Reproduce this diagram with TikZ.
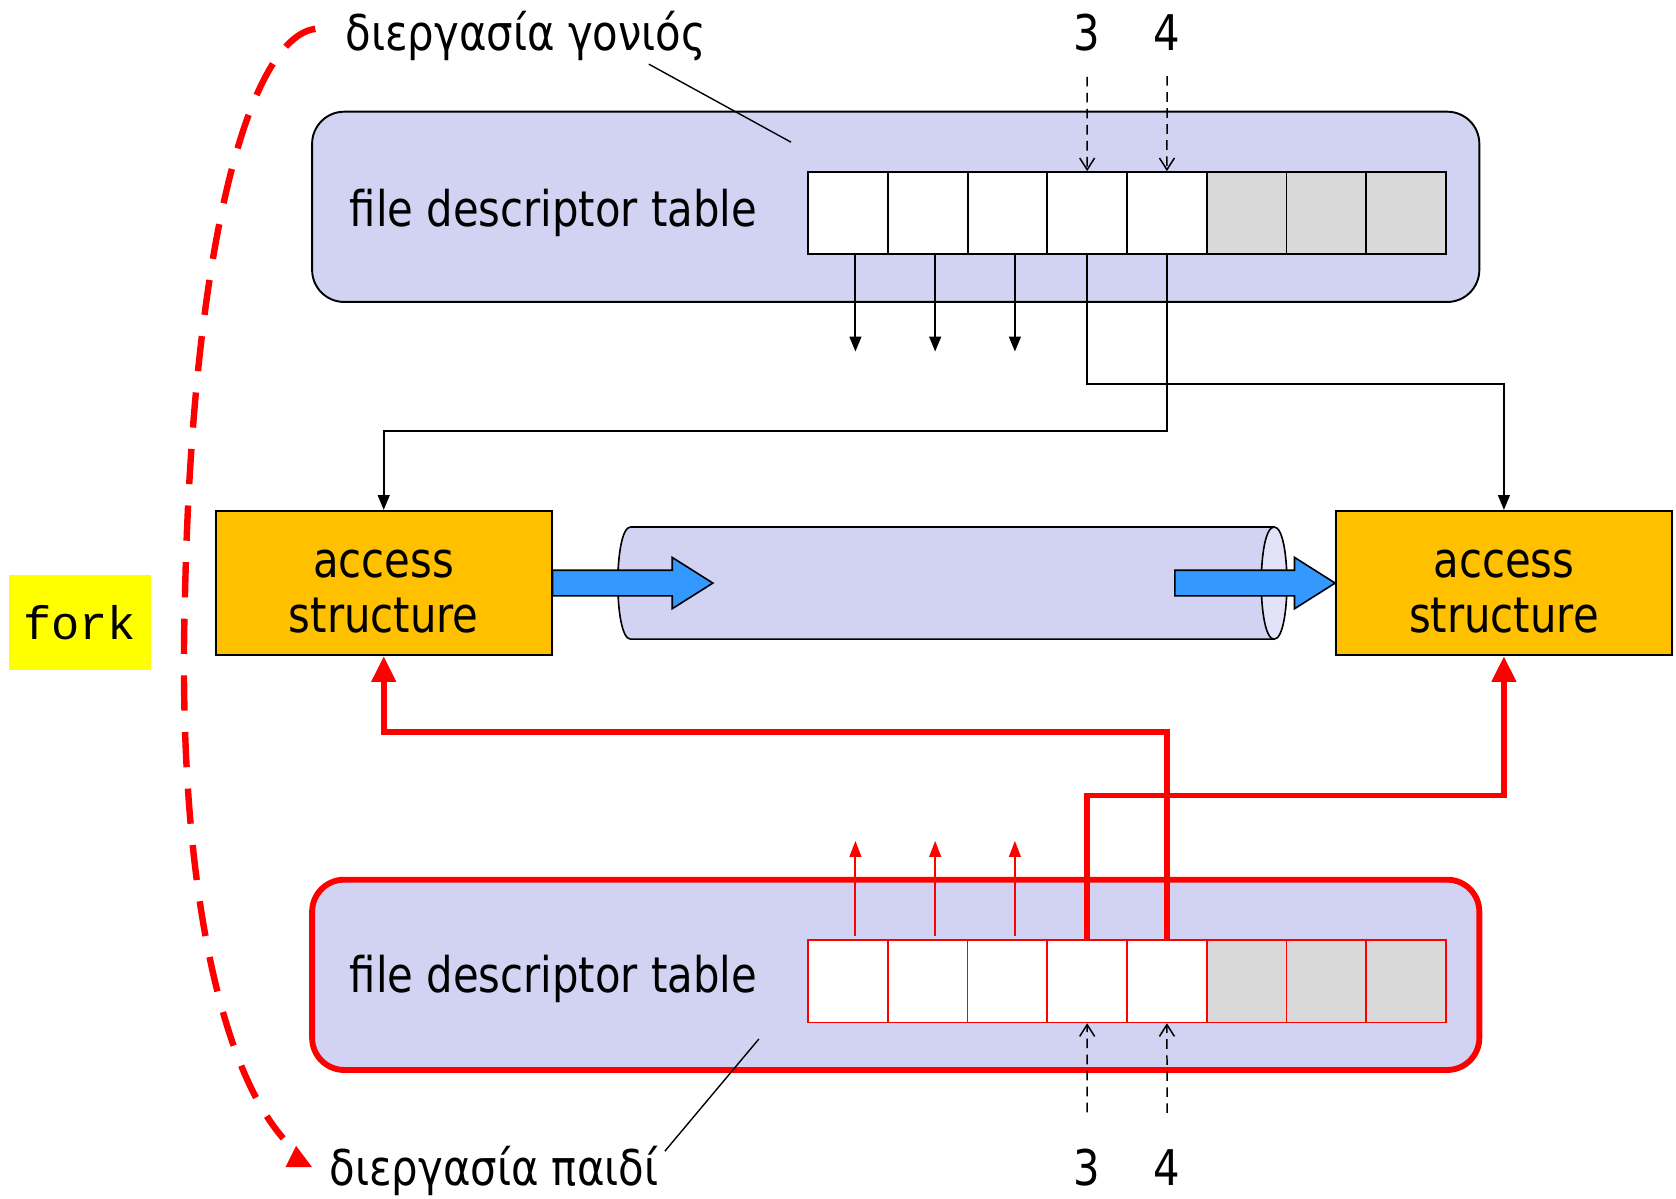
\documentclass[tikz,border=0pt]{standalone}
\usepackage{fontspec}
\setmainfont{DejaVu Sans}[FakeStretch=0.85]
\newfontfamily\forkfont{Liberation Mono}
\usetikzlibrary{arrows.meta,calc}
\definecolor{lav}{RGB}{210,210,243}
\definecolor{lavlight}{RGB}{226,226,248}
\definecolor{cellgray}{RGB}{217,217,217}
\definecolor{accorange}{RGB}{255,192,0}
\definecolor{arrblue}{RGB}{51,153,255}
\definecolor{forkyellow}{RGB}{255,255,0}
\definecolor{pred}{RGB}{255,0,0}
\begin{document}
\begin{tikzpicture}[x=1pt,y=-1pt,
  big/.style={font=\fontsize{46}{52}\selectfont},
  procbox/.style={rounded corners=30pt, fill=lav, minimum width=1092pt, minimum height=178pt, inner sep=0pt},
  cellbox/.style={minimum width=74.6pt, minimum height=77pt, inner sep=0pt},
  accbox/.style={draw=black, line width=1.8pt, fill=accorange, minimum width=314pt, minimum height=135pt, inner sep=0pt},
  acctext/.style={big, align=center, inner sep=0pt},
  dasharr/.style={black, line width=1.4pt, dash pattern=on 9pt off 6pt, -{Straight Barb[length=11pt,width=14pt]}},
  solidarr/.style={black, line width=1.9pt, -{Triangle[length=14pt,width=11pt]}},
  redthin/.style={pred, line width=1.8pt, -{Triangle[length=15pt,width=11pt]}},
  redthick/.style={pred, line width=5.5pt, -{Triangle[length=24pt,width=22pt]}},
  bluearr/.style={draw=black, line width=1.5pt, fill=arrblue},
  leader/.style={black, line width=1.3pt}
]
\useasboundingbox (0,0) rectangle (1568,1121);

% process boxes
\node[procbox, draw=black, line width=1.8pt] (parent) at (838,193.5) {};
\node[procbox, draw=pred, line width=5.5pt] (child) at (838,912) {};

\node[big, anchor=base west, inner sep=0pt] (ptxt) at (327,212) {file descriptor table};
\node[big, anchor=base west, inner sep=0pt] (ctxt) at (327,929) {file descriptor table};

% cells
\foreach \i in {0,...,4} {
  \node[cellbox, fill=white, draw=black, line width=1.8pt] (p\i) at ({793.3+74.6*\i},199.5) {};
  \node[cellbox, fill=white, draw=pred, line width=1.6pt] (c\i) at ({793.3+74.6*\i},918) {};
}
\foreach \i in {5,...,7} {
  \node[cellbox, fill=cellgray, draw=black, line width=1.8pt] (p\i) at ({793.3+74.6*\i},199.5) {};
  \node[cellbox, fill=cellgray, draw=pred, line width=1.6pt] (c\i) at ({793.3+74.6*\i},918) {};
}

% labels
\node[big, anchor=base west, inner sep=0pt] (plbl) at (323,47) {διεργασία γονιός};
\node[big, anchor=base west, inner sep=0pt] (clbl) at (308,1109) {διεργασία παιδί};
\node[big, anchor=base, inner sep=0pt] (t3) at (1017,47) {3};
\node[big, anchor=base, inner sep=0pt] (t4) at (1092,47) {4};
\node[big, anchor=base, inner sep=0pt] (b3) at (1017,1109) {3};
\node[big, anchor=base, inner sep=0pt] (b4) at (1092,1109) {4};

% leader lines
\coordinate (la1) at (607,60);
\coordinate (la2) at (740,133);
\coordinate (lb1) at (622,1077);
\coordinate (lb2) at (710,972);
\draw[leader] (la1) -- (la2);
\draw[leader] (lb1) -- (lb2);

% dashed index arrows
\draw[dasharr, shorten <=24pt] (t3.south) -- (p3.north);
\draw[dasharr, shorten <=24pt] (t4.south) -- (p4.north);
\draw[dasharr, shorten <=34pt] (b3.north) -- (c3.south);
\draw[dasharr, shorten <=34pt] (b4.north) -- (c4.south);

% access structures
\node[accbox] (leftacc) at (359,545.5) {};
\node[accbox] (rightacc) at (1407,545.5) {};
\node[acctext, anchor=base] (ltxt) at (359,592) {access\\structure};
\node[acctext, anchor=base] (rtxt) at (1407,592) {access\\structure};

% pipe
\node[minimum width=626pt, minimum height=105pt, inner sep=0pt] (pipe) at (891,545.5) {};
\draw[line width=1.5pt, fill=lav]
  (590,493) -- (1192,493) -- (1192,598) -- (590,598)
  .. controls (574,598) and (574,493) .. (590,493) -- cycle;
\draw[line width=1.5pt, fill=lavlight]
  (1192,493) .. controls (1208,493) and (1208,598) .. (1192,598)
             .. controls (1176,598) and (1176,493) .. (1192,493) -- cycle;

\draw[bluearr] (leftacc.east) ++(0,-12) -- ++(112,0) -- ++(0,-12) -- ++(38,24) -- ++(-38,24) -- ++(0,-12) -- ++(-112,0) -- cycle;
\draw[bluearr] (rightacc.west) ++(-150,-12) -- ++(112,0) -- ++(0,-12) -- ++(38,24) -- ++(-38,24) -- ++(0,-12) -- ++(-112,0) -- cycle;

% parent connectors
\foreach \i in {0,1,2} {
  \draw[solidarr] ([xshift=7pt]p\i.south) -- ++(0,90);
  \draw[redthin] ([xshift=7pt,yshift=3pt]c\i.north) -- ++(0,-89);
}
\draw[solidarr] (p3.south) -- ++(0,120) -| (rightacc.north);
\draw[solidarr] (p4.south) -- ++(0,164) -| (leftacc.north);

% child connectors
\draw[redthick] (c4.north) -- ++(0,-193.5) -| (leftacc.south);
\draw[redthick] (c3.north) -- ++(0,-134.5) -| (rightacc.south);

% fork
\node[fill=forkyellow, minimum width=133pt, minimum height=89pt, inner sep=0pt,
      font=\forkfont\fontsize{44}{44}\selectfont] (fork) at (74.5,582.5) {fork};
\coordinate (fs) at (295,27);
\coordinate (fe) at (265,1065);
\draw[pred, line width=6pt, dash pattern=on 33pt off 20pt]
  (fs) .. controls (235,35) and (180,220) .. (173,560)
       .. controls (166,800) and (200,990) .. (fe);
\fill[pred] (267,1092) -- (292,1092) -- (277,1072) -- cycle;
\end{tikzpicture}
\end{document}
